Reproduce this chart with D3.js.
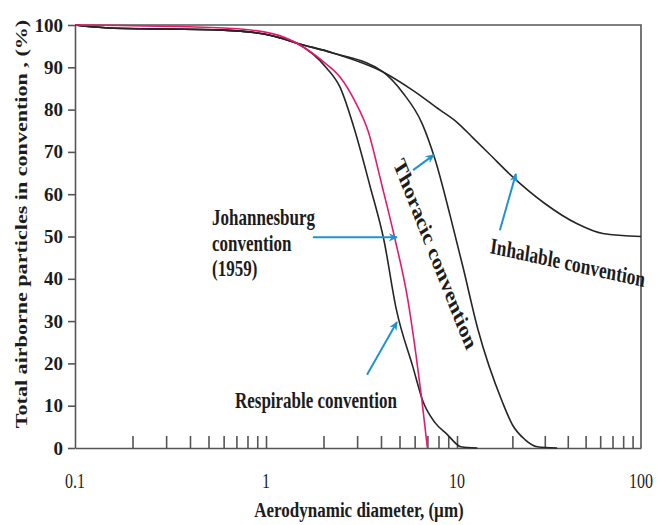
<!DOCTYPE html>
<html>
<head>
<meta charset="utf-8">
<script src="https://cdn.jsdelivr.net/npm/d3@7"></script>
<style>
	body { margin: 0; background: #fff; }
	text { font-family: "Liberation Serif", "Times New Roman", serif; fill: #1c1c1c; }
</style>
</head>
<body>
<svg id="chart" width="658" height="525"></svg>
<script>
'use strict';

// aerodynamic diameter (µm) and % of airborne particles
let inhalableD = [0.1, 0.15, 0.6, 1.09, 1.45, 2.24, 4.1, 5.9, 8.1, 10, 12.1, 15, 19.6, 30, 45, 62, 100];
let inhalableP = [100, 99.3, 98.8, 97.4, 95.7, 93.4, 88.9, 84.5, 80, 77, 73.5, 69.5, 64.5, 57.8, 53, 50.7, 50];

let thoracicD = [0.1, 0.15, 0.6, 1.09, 1.45, 2.24, 4.1, 5.2, 6.55, 7.7, 9.2, 10.8, 13, 17.6, 20, 23.4, 27.3, 35];
let thoracicP = [100, 99.3, 98.8, 97.4, 95.7, 93.4, 88.9, 84, 76.8, 68, 55, 42.6, 28, 11, 5.5, 2, 0.3, 0];

let respirableD = [0.1, 0.15, 0.6, 1.09, 1.45, 2.08, 2.44, 2.92, 3.5, 4.15, 4.8, 5.89, 6.64, 7.67, 8.85, 10.5, 12.9];
let respirableP = [100, 99.3, 98.8, 97.4, 95.7, 89.8, 85.3, 75, 62, 49, 33, 19, 11, 6, 3.3, 0.3, 0];

let johannesburgD = [0.1, 0.6, 1.09, 1.45, 2.04, 2.44, 2.92, 3.42, 4.05, 4.7, 5.53, 6.1, 6.56, 7.0];
let johannesburgP = [100, 99.3, 97.9, 95.7, 91, 87.7, 82, 75, 62, 50, 35, 22, 11, 0];

let xTickLabels = [0.1, 1, 10, 100];
let xMinorTicks = [0.2, 0.3, 0.4, 0.5, 0.6, 0.7, 0.8, 0.9, 1, 2, 3, 4, 5, 6, 7, 8, 9, 10, 20, 30, 40, 50, 60, 70, 80, 90];
let yTicks = [0, 10, 20, 30, 40, 50, 60, 70, 80, 90, 100];

// arrows, [diameter, %] from -> to
let arrowFrom = [[1.76, 49.8], [5.89, 65.7], [17.1, 51.5], [3.38, 17.3]];
let arrowTo = [[4.85, 49.8], [7.57, 69.3], [20.9, 64.8], [4.85, 29.8]];

let svg = d3.select('#chart');

let margin = {left: 75, right: 641, top: 25, bottom: 448};

// the source picture is a bit taller than it is wide, text looks stretched
let stretch = 1.3;

// the printed decades are not quite even, so piecewise log
let x = d3.scaleLog()
	.domain([0.1, 1, 10, 100])
	.range([margin.left, 266, 457, margin.right]);

let y = d3.scaleLinear()
	.domain([0, 100])
	.range([margin.bottom, margin.top]);

let axisColor = '#555';

// frame top and right
svg.append('path')
	.attr('d', `M${margin.left},${margin.top}H${margin.right}V${margin.bottom}`)
	.attr('fill', 'none')
	.attr('stroke', axisColor)
	.attr('stroke-width', 1.6);

// y axis
let yAxis = svg.append('g')
	.attr('transform', `translate(${margin.left},0)`)
	.call(d3.axisLeft(y).tickValues(yTicks).tickSize(7).tickSizeOuter(0).tickPadding(5));

yAxis.selectAll('path, line').attr('stroke', axisColor).attr('stroke-width', 1.6);
yAxis.selectAll('text')
	.attr('font-family', '"Liberation Serif", serif')
	.attr('font-size', 19)
	.attr('font-weight', 'bold')
	.attr('fill', '#1c1c1c');

// x axis, ticks pointing in
let xAxis = svg.append('g')
	.attr('transform', `translate(0,${margin.bottom})`)
	.call(d3.axisBottom(x).tickValues(xMinorTicks).tickSize(-12).tickSizeOuter(0).tickFormat(''));

xAxis.selectAll('path, line').attr('stroke', axisColor).attr('stroke-width', 1.6);

svg.append('g')
	.selectAll('text')
	.data(xTickLabels)
	.join('text')
	.attr('transform', d => `translate(${x(d)},488) scale(1,${stretch})`)
	.attr('text-anchor', 'middle')
	.attr('font-size', 16)
	.text(d => d);

// axis titles
svg.append('text')
	.attr('transform', `translate(27,224) scale(1,${stretch}) rotate(-90)`)
	.attr('text-anchor', 'middle')
	.attr('font-size', 17)
	.attr('font-weight', 'bold')
	.text('Total airborne particles in convention , (%)');

svg.append('text')
	.attr('transform', `translate(${(margin.left + margin.right) / 2 + 1},517) scale(1,1.17)`)
	.attr('text-anchor', 'middle')
	.attr('font-size', 17)
	.attr('font-weight', 'bold')
	.text('Aerodynamic diameter, (µm)');

// curves
let line = d3.line()
	.x(d => x(d[0]))
	.y(d => y(d[1]))
	.curve(d3.curveMonotoneX);

let curves = [
	{d: inhalableD, p: inhalableP, color: '#262626'},
	{d: thoracicD, p: thoracicP, color: '#262626'},
	{d: respirableD, p: respirableP, color: '#262626'},
	{d: johannesburgD, p: johannesburgP, color: '#e8186f'}
];

svg.append('g')
	.selectAll('path')
	.data(curves)
	.join('path')
	.attr('d', c => line(d3.zip(c.d, c.p)))
	.attr('fill', 'none')
	.attr('stroke', c => c.color)
	.attr('stroke-width', 1.6);

// arrows
let blue = '#1f93d2';

svg.append('defs').append('marker')
	.attr('id', 'head')
	.attr('viewBox', '0 0 10 10')
	.attr('refX', 9)
	.attr('refY', 5)
	.attr('markerWidth', 10)
	.attr('markerHeight', 9)
	.attr('markerUnits', 'userSpaceOnUse')
	.attr('orient', 'auto')
	.append('path')
	.attr('d', 'M0,0.5L10,5L0,9.5L3,5Z')
	.attr('fill', blue);

svg.append('g')
	.selectAll('line')
	.data(d3.zip(arrowFrom, arrowTo))
	.join('line')
	.attr('x1', a => x(a[0][0]))
	.attr('y1', a => y(a[0][1]))
	.attr('x2', a => x(a[1][0]))
	.attr('y2', a => y(a[1][1]))
	.attr('stroke', blue)
	.attr('stroke-width', 2)
	.attr('marker-end', 'url(#head)');

// labels (angle is before the vertical stretch)
let labels = [
	{text: 'Johannesburg', d: 0.522, p: 52.7, angle: 0, anchor: 'start', size: 17},
	{text: 'convention', d: 0.522, p: 46.6, angle: 0, anchor: 'start', size: 17},
	{text: '(1959)', d: 0.522, p: 40.6, angle: 0, anchor: 'start', size: 17},
	{text: 'Respirable convention', d: 0.688, p: 9.5, angle: 0, anchor: 'start', size: 17},
	{text: 'Inhalable convention', d: 15.0, p: 46.1, angle: 9.6, anchor: 'start', size: 17.5},
	{text: 'Thoracic convention', d: 7.2, p: 45.0, angle: 62.9, anchor: 'middle', size: 18.5}
];

svg.append('g')
	.selectAll('text')
	.data(labels)
	.join('text')
	.attr('transform', l => `translate(${x(l.d)},${y(l.p)}) scale(1,${stretch}) rotate(${l.angle})`)
	.attr('text-anchor', l => l.anchor)
	.attr('font-size', l => l.size)
	.attr('font-weight', 'bold')
	.text(l => l.text);
</script>
</body>
</html>
